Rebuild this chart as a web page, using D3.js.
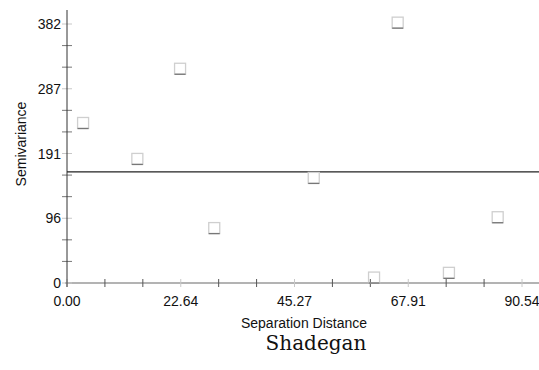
<!DOCTYPE html>
<html>
<head>
<meta charset="utf-8">
<script src="https://cdn.jsdelivr.net/npm/d3@7"></script>
<style>
  body { margin: 0; background: #fff; }
  svg { display: block; }
</style>
</head>
<body>
<div id="chart"></div>
<script>
// semivariance estimates per lag class
var lagDistance = [3.2, 14.0, 22.5, 29.3, 49.1, 65.8, 61.1, 76.0, 85.7];
var semivariance = [236, 183, 316, 81, 155, 384, 8, 15, 97];
var sampleVariance = 164;

var xTickValues = [0, 22.635, 45.27, 67.905, 90.54];
var xTickLabels = ["0.00", "22.64", "45.27", "67.91", "90.54"];
var yTickValues = [0, 95.5, 191, 286.5, 382];
var yTickLabels = ["0", "96", "191", "287", "382"];

function init() {
    var w = 539;
    var h = 370;

    var left = 67;
    var top = 24;
    var bottom = 283;
    var right = 522;

    var svg = d3.select("#chart")
                .append("svg")
                .attr("width", w)
                .attr("height", h);

    var xScale = d3.scaleLinear()
                .domain([0, 90.54])
                .range([left, right]);

    var yScale = d3.scaleLinear()
                .domain([0, 382])
                .range([bottom, top]);

    // minor ticks: 3 per labelled interval
    var xMinor = d3.range(0, 13).map(function(i) { return i * 90.54 / 12; });
    var yMinor = d3.range(0, 13).map(function(i) { return i * 382 / 12; });

    // x axis line
    svg.append("line")
        .attr("x1", left - 2).attr("x2", w)
        .attr("y1", bottom).attr("y2", bottom)
        .attr("stroke", "#9a9a9a")
        .attr("stroke-width", 1.5);

    svg.selectAll(".xminor")
        .data(xMinor)
        .enter()
        .append("line")
        .attr("x1", function(d) { return xScale(d); })
        .attr("x2", function(d) { return xScale(d); })
        .attr("y1", bottom - 4)
        .attr("y2", bottom + 4)
        .attr("stroke", function(d, i) { return i % 3 == 0 ? "#c8c8c8" : "#555"; })
        .attr("stroke-width", 1);

    // y axis
    svg.selectAll(".yminor")
        .data(yMinor)
        .enter()
        .append("line")
        .attr("x1", left - 5)
        .attr("x2", left + 5)
        .attr("y1", function(d) { return yScale(d); })
        .attr("y2", function(d) { return yScale(d); })
        .attr("stroke", function(d, i) { return i % 3 == 0 ? "#c8c8c8" : "#777"; })
        .attr("stroke-width", 1);

    svg.append("line")
        .attr("x1", left).attr("x2", left)
        .attr("y1", 10).attr("y2", bottom + 4)
        .attr("stroke", "#333")
        .attr("stroke-width", 1);

    svg.selectAll(".ylab")
        .data(yTickValues)
        .enter()
        .append("text")
        .attr("x", left - 6)
        .attr("y", function(d) { return yScale(d) + 5; })
        .attr("text-anchor", "end")
        .attr("font-family", "Liberation Sans, Arial, sans-serif")
        .attr("font-size", "14px")
        .attr("fill", "#111")
        .text(function(d, i) { return yTickLabels[i]; });

    svg.selectAll(".xlab")
        .data(xTickValues)
        .enter()
        .append("text")
        .attr("x", function(d) { return xScale(d); })
        .attr("y", 306)
        .attr("text-anchor", "middle")
        .attr("font-family", "Liberation Sans, Arial, sans-serif")
        .attr("font-size", "14px")
        .attr("fill", "#111")
        .text(function(d, i) { return xTickLabels[i]; });

    // sample variance line
    svg.append("line")
        .attr("x1", left).attr("x2", w)
        .attr("y1", yScale(sampleVariance))
        .attr("y2", yScale(sampleVariance))
        .attr("stroke", "#222")
        .attr("stroke-width", 1.2);

    // open square markers
    var s = 11;
    var pts = svg.selectAll(".pt")
        .data(lagDistance)
        .enter()
        .append("g")
        .attr("transform", function(d, i) {
            return "translate(" + xScale(d) + "," + yScale(semivariance[i]) + ")";
        });

    pts.append("rect")
        .attr("x", -s / 2).attr("y", -s / 2)
        .attr("width", s).attr("height", s)
        .attr("fill", "none")
        .attr("stroke", "#cfcfcf")
        .attr("stroke-width", 1.3);

    pts.append("line")
        .attr("x1", -s / 2).attr("x2", s / 2)
        .attr("y1", s / 2).attr("y2", s / 2)
        .attr("stroke", "#777")
        .attr("stroke-width", 1.3);

    svg.append("text")
        .attr("x", 304)
        .attr("y", 328)
        .attr("text-anchor", "middle")
        .attr("font-family", "Liberation Sans, Arial, sans-serif")
        .attr("font-size", "14px")
        .attr("fill", "#111")
        .text("Separation Distance");

    svg.append("text")
        .attr("transform", "translate(26,144) rotate(-90)")
        .attr("text-anchor", "middle")
        .attr("font-family", "Liberation Sans, Arial, sans-serif")
        .attr("font-size", "14px")
        .attr("fill", "#111")
        .text("Semivariance");

    svg.append("text")
        .attr("x", 316)
        .attr("y", 350)
        .attr("text-anchor", "middle")
        .attr("font-family", "DejaVu Serif, serif")
        .attr("font-size", "20px")
        .attr("fill", "#111")
        .text("Shadegan");
}

window.onload = init;
</script>
</body>
</html>
